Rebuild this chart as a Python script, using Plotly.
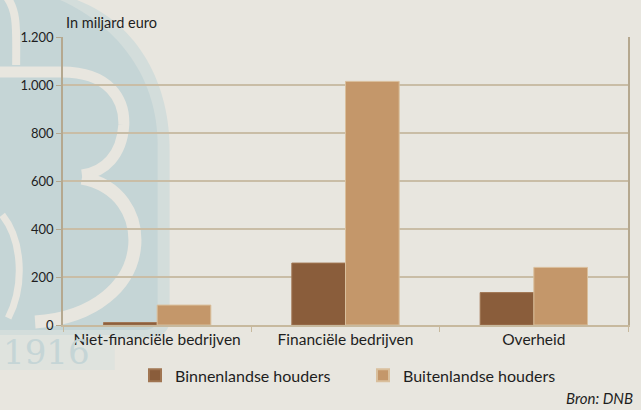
import plotly.graph_objects as go

categories = ["Niet-financiële bedrijven", "Financiële bedrijven", "Overheid"]
binnenlandse = [10, 258, 135]
buitenlandse = [83, 1015, 240]
series_names = ["Binnenlandse houders", "Buitenlandse houders"]
y_ticks = [0, 200, 400, 600, 800, 1000, 1200]

W, H = 641, 410
L, R, T, B = 63, 11, 37, 85
PW, PH = W - L - R, H - T - B

def px(x):
    return (x - L) / PW

def py(y):
    return (H - B - y) / PH

def path(cmds):
    out = []
    for c in cmds:
        if isinstance(c, str):
            out.append(c)
        else:
            out.append(f"{px(c[0]):.4f},{py(c[1]):.4f}")
    return " ".join(out)

BG = "#e8e6df"
BLUE = "#c5d5d6"
BLUE_L = "#d3dddb"

shapes = [
    dict(type="path", xref="paper", yref="paper", layer="below", line=dict(width=0), fillcolor=BLUE_L,
         path=path(["M", (-5, -5), "L", (62, -5), "C", (135, 15), (170, 80), (170, 150),
                    "L", (170, 320), "C", (170, 332), (160, 338), (150, 338), "L", (-5, 338), "Z"])),
    dict(type="path", xref="paper", yref="paper", layer="below", line=dict(width=0), fillcolor=BLUE,
         path=path(["M", (-5, -5), "L", (48, -5), "C", (115, 20), (158, 75), (158, 145),
                    "L", (158, 318), "C", (158, 326), (152, 330), (145, 330), "L", (-5, 330), "Z"])),
    dict(type="path", xref="paper", yref="paper", layer="below", line=dict(width=0), fillcolor="#dfe3de",
         path=path(["M", (-5, 335), "L", (115, 335), "L", (115, 370), "L", (-5, 370), "Z"])),
    # B strokes
    dict(type="path", xref="paper", yref="paper", layer="below", line=dict(color=BG, width=8),
         path=path(["M", (5, -5), "C", (18, 10), (16, 30), (16, 65)])),
    dict(type="path", xref="paper", yref="paper", layer="below", line=dict(color=BG, width=11),
         path=path(["M", (-5, 72), "L", (62, 72), "C", (110, 72), (125, 100), (124, 125),
                    "C", (122, 155), (105, 172), (82, 175)])),
    dict(type="path", xref="paper", yref="paper", layer="below", line=dict(color=BG, width=13),
         path=path(["M", (82, 178), "C", (120, 185), (137, 215), (135, 245),
                    "C", (132, 285), (95, 318), (35, 322)])),
    dict(type="path", xref="paper", yref="paper", layer="below", line=dict(color=BG, width=7),
         path=path(["M", (2, 215), "C", (22, 240), (25, 285), (8, 318)])),
]

fig = go.Figure()
fig.add_trace(go.Bar(x=categories, y=binnenlandse, name=series_names[0],
                     marker=dict(color="#8a5d3b", line=dict(color="#a07552", width=1))))
fig.add_trace(go.Bar(x=categories, y=buitenlandse, name=series_names[1],
                     marker=dict(color="#c4976a", line=dict(color="#d9bf9c", width=1))))

FONT = "Lato"
fig.update_layout(
    width=W, height=H,
    margin=dict(l=L, r=R, t=T, b=B),
    paper_bgcolor=BG, plot_bgcolor="rgba(0,0,0,0)",
    font=dict(family=FONT, color="#1e1e1e", size=15),
    separators=",.",
    barmode="group", bargap=0.43, bargroupgap=0,
    showlegend=True,
    legend=dict(orientation="h", x=0.531, xanchor="center", y=-0.175, yanchor="middle",
                font=dict(size=16), bgcolor="rgba(0,0,0,0)", entrywidth=183, entrywidthmode="pixels",
                itemsizing="constant"),
    shapes=shapes,
    xaxis=dict(showline=True, linecolor="#c7b99e", linewidth=1.5, mirror=False,
               ticks="outside", tickson="boundaries", ticklen=5, tickcolor="#c7b99e",
               tickfont=dict(size=15.5), showgrid=False),
    yaxis=dict(range=[0, 1200], tickvals=y_ticks, tickformat=",d",
               showline=True, linecolor="#b5a88f", linewidth=1.5, mirror=True,
               ticks="outside", ticklen=5, tickcolor="#b5a88f",
               gridcolor="#c9bda6", gridwidth=1.5, zeroline=False,
               tickfont=dict(size=13)),
    annotations=[
        dict(text="In miljard euro", xref="paper", yref="paper", x=px(64), y=py(22),
             xanchor="left", yanchor="middle", showarrow=False, font=dict(size=14.5)),
        dict(text="<i>Bron: DNB</i>", xref="paper", yref="paper", x=px(637), y=py(398),
             xanchor="right", yanchor="middle", showarrow=False, font=dict(size=15)),
        dict(text="1916", xref="paper", yref="paper", x=px(1), y=py(352),
             xanchor="left", yanchor="middle", showarrow=False,
             font=dict(size=34, family="DejaVu Serif", color="#c5d5d6")),
    ],
)

fig.write_html("out.html", config={"displayModeBar": False},
               post_script="document.body.style.margin='0';document.body.style.padding='0';document.body.style.overflow='hidden';")
